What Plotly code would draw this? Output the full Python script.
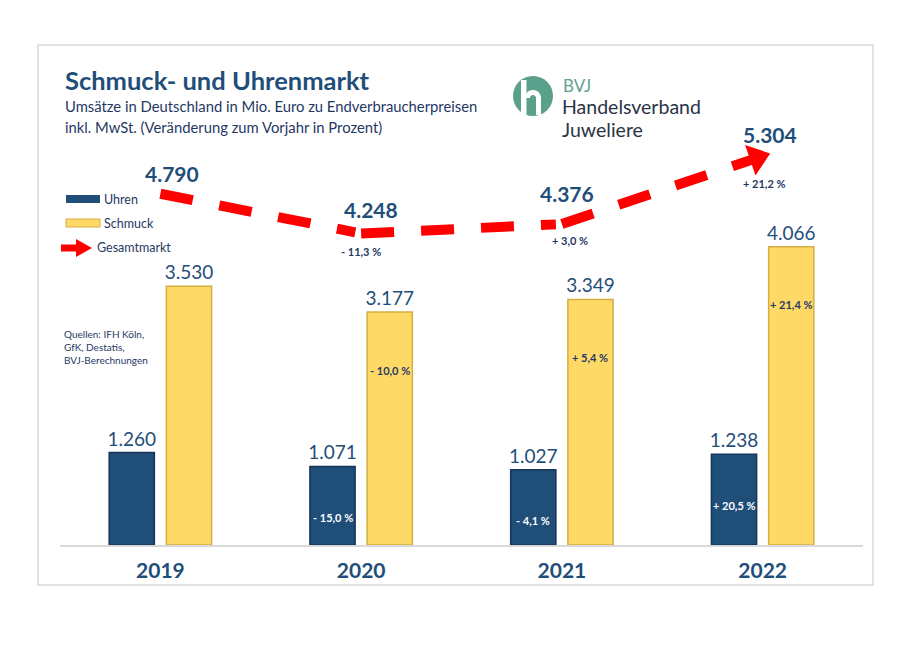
import math
import plotly.graph_objects as go

# ---------------- data ----------------
years = ["2019", "2020", "2021", "2022"]
uhren = [1260, 1071, 1027, 1238]
schmuck = [3530, 3177, 3349, 4066]
gesamt = [4790, 4248, 4376, 5304]
uhren_change = ["", "- 15,0 %", "- 4,1 %", "+ 20,5 %"]
schmuck_change = ["", "- 10,0 %", "+ 5,4 %", "+ 21,4 %"]
gesamt_change = ["", "- 11,3 %", "+ 3,0 %", "+ 21,2 %"]
source_lines = ["Quellen: IFH Köln,", "GfK, Destatis,", "BVJ-Berechnungen"]

# ---------------- style ----------------
FONT = "Lato"
NAVY = "#1F4E79"
TEXT = "#1F3864"
GOLD = "#FFD966"
RED = "#FF0000"
GREEN = "#5BA08B"
OFF = 8  # page body margin of the browser
W, H = 915, 653
ML, MT = 52, 97
PW, PH = 803, 440
MR = W - ML - PW
MB = H - MT - PH
YMAX = 6000
# label offsets (pixels) for the totals line
total_shift = [(12, 20), (10, 24), (5, 31), (7, 22)]
change_shift = [(0, 0), (0, -18), (8, -16), (1, -27)]
ARROW_SIZE = 28


def de(v):
    return f"{v:,}".replace(",", ".")


def px(x):
    return (x - OFF - ML) / PW


def py(y):
    return (H - MB - (y - OFF)) / PH


fig = go.Figure()
fig.add_trace(go.Bar(
    x=years, y=uhren, name="Uhren",
    marker=dict(color=NAVY, line=dict(color="#15365A", width=1.5)),
    text=[de(v) for v in uhren], textposition="outside",
    textfont=dict(family=FONT, size=19, color=NAVY),
    constraintext="none", cliponaxis=False, hoverinfo="skip",
))
fig.add_trace(go.Bar(
    x=years, y=schmuck, name="Schmuck",
    marker=dict(color=GOLD, line=dict(color="#D4AE45", width=1.5)),
    text=[de(v) for v in schmuck], textposition="outside",
    textfont=dict(family=FONT, size=19, color=NAVY),
    constraintext="none", cliponaxis=False, hoverinfo="skip",
))
fig.add_trace(go.Scatter(
    x=years, y=gesamt, name="Gesamtmarkt", mode="lines+markers",
    line=dict(color=RED, width=10, dash="33px,27px"),
    marker=dict(symbol="triangle-up", size=[0, 0, 0, ARROW_SIZE], angleref="previous",
                standoff=6, color=RED, opacity=1, line=dict(width=0)),
    cliponaxis=False, hoverinfo="skip",
))

ann = []
slot = PW / len(years) * (1 - 0.43) / 2
for i, yr in enumerate(years):
    # on a category axis annotation positions are category indices
    ann.append(dict(x=i, y=gesamt[i], xref="x", yref="y", text=de(gesamt[i]),
                    showarrow=False, xshift=total_shift[i][0], yshift=total_shift[i][1],
                    font=dict(family=FONT, size=21, color=NAVY, weight="bold")))
    if gesamt_change[i]:
        ann.append(dict(x=i, y=gesamt[i], xref="x", yref="y", text=gesamt_change[i],
                        showarrow=False, xshift=change_shift[i][0], yshift=change_shift[i][1],
                        font=dict(family=FONT, size=11, color=TEXT, weight="bold")))
    if uhren_change[i]:
        ann.append(dict(x=i, y=uhren[i], xref="x", yref="y", text=uhren_change[i],
                        showarrow=False, xshift=-slot / 2, yshift=-51,
                        font=dict(family=FONT, size=11, color="white", weight="bold")))
    if schmuck_change[i]:
        ann.append(dict(x=i, y=schmuck[i], xref="x", yref="y", text=schmuck_change[i],
                        showarrow=False, xshift=slot / 2, yshift=-58,
                        font=dict(family=FONT, size=11, color=TEXT, weight="bold")))

# title block
ann.append(dict(x=px(63), y=py(80), xref="paper", yref="paper", xanchor="left", yanchor="middle",
                text="Schmuck- und Uhrenmarkt", showarrow=False,
                font=dict(family=FONT, size=25.5, color=NAVY, weight="bold")))
ann.append(dict(x=px(63), y=py(106), xref="paper", yref="paper", xanchor="left", yanchor="middle",
                text="Umsätze in Deutschland in Mio. Euro zu Endverbraucherpreisen", showarrow=False,
                font=dict(family=FONT, size=14.8, color=TEXT)))
ann.append(dict(x=px(63), y=py(127), xref="paper", yref="paper", xanchor="left", yanchor="middle",
                text="inkl. MwSt. (Veränderung zum Vorjahr in Prozent)", showarrow=False,
                font=dict(family=FONT, size=14.8, color=TEXT)))
# logo text
ann.append(dict(x=px(561), y=py(86), xref="paper", yref="paper", xanchor="left", yanchor="middle",
                text="BVJ", showarrow=False, font=dict(family=FONT, size=17, color="#5FA38D")))
ann.append(dict(x=px(560), y=py(107), xref="paper", yref="paper", xanchor="left", yanchor="middle",
                text="Handelsverband", showarrow=False, font=dict(family=FONT, size=19.5, color="#2B3445")))
ann.append(dict(x=px(560), y=py(130), xref="paper", yref="paper", xanchor="left", yanchor="middle",
                text="Juweliere", showarrow=False, font=dict(family=FONT, size=19.5, color="#2B3445")))
# legend text
for label, ypix in [("Uhren", 199), ("Schmuck", 223), ("Gesamtmarkt", 248)]:
    ann.append(dict(x=px(95 if label == "Gesamtmarkt" else 102), y=py(ypix), xref="paper", yref="paper",
                    xanchor="left", yanchor="middle", text=label, showarrow=False,
                    font=dict(family=FONT, size=12.5, color=TEXT)))
# source
ann.append(dict(x=px(62), y=py(347), xref="paper", yref="paper", xanchor="left", yanchor="middle",
                text="<br>".join(source_lines), showarrow=False, align="left",
                font=dict(family=FONT, size=10, color=TEXT)))


def ppath(points):
    return "M " + " L ".join(f"{px(a)} {py(b)}" for a, b in points) + " Z"


# logo "h" mark (approximate)
arch = []
for k in range(0, 19):
    t = math.pi - k * math.pi / 18
    arch.append((533 + 8 * math.cos(t), 98 - 8 * math.sin(t)))
arch_inner = []
for k in range(18, -1, -1):
    t = math.pi - k * math.pi / 18
    arch_inner.append((533 + 3 * math.cos(t), 98 - 3 * math.sin(t)))

shapes = [
    dict(type="rect", xref="paper", yref="paper", x0=px(38), x1=px(873), y0=py(45), y1=py(585),
         line=dict(color="#D9D9D9", width=1.5), layer="below"),
    dict(type="circle", xref="paper", yref="paper", x0=px(513), x1=px(553), y0=py(76), y1=py(116),
         fillcolor=GREEN, line=dict(width=0)),
    dict(type="rect", xref="paper", yref="paper", x0=px(521), x1=px(526.5), y0=py(80), y1=py(116),
         fillcolor="white", line=dict(width=0)),
    dict(type="path", xref="paper", yref="paper",
         path=ppath(arch + [(541, 115), (536, 115)] + arch_inner),
         fillcolor="white", line=dict(width=0)),
    dict(type="rect", xref="paper", yref="paper", x0=px(66), x1=px(100), y0=py(195), y1=py(203),
         fillcolor=NAVY, line=dict(width=0)),
    dict(type="rect", xref="paper", yref="paper", x0=px(66), x1=px(100), y0=py(219), y1=py(227),
         fillcolor=GOLD, line=dict(color="#D4AE45", width=1)),
    dict(type="line", xref="paper", yref="paper", x0=px(61), x1=px(78), y0=py(248), y1=py(248),
         line=dict(color=RED, width=7)),
    dict(type="path", xref="paper", yref="paper",
         path=ppath([(76, 239), (92, 248), (76, 257)]),
         fillcolor=RED, line=dict(width=0)),
]

fig.update_layout(
    width=W, height=H,
    margin=dict(l=ML, r=MR, t=MT, b=MB),
    paper_bgcolor="white", plot_bgcolor="rgba(0,0,0,0)",
    barmode="group", bargap=0.43, bargroupgap=0.21,
    showlegend=False,
    annotations=ann, shapes=shapes,
    xaxis=dict(type="category", range=[-0.5, 3.5], showgrid=False, showline=True,
               linecolor="#D9D9D9", linewidth=1.5,
               ticks="", tickfont=dict(family=FONT, size=21, color=NAVY, weight="bold"),
               ticklabelstandoff=6),
    yaxis=dict(range=[0, YMAX], visible=False, showgrid=False),
    font=dict(family=FONT),
)

fig.write_html("out.html")
